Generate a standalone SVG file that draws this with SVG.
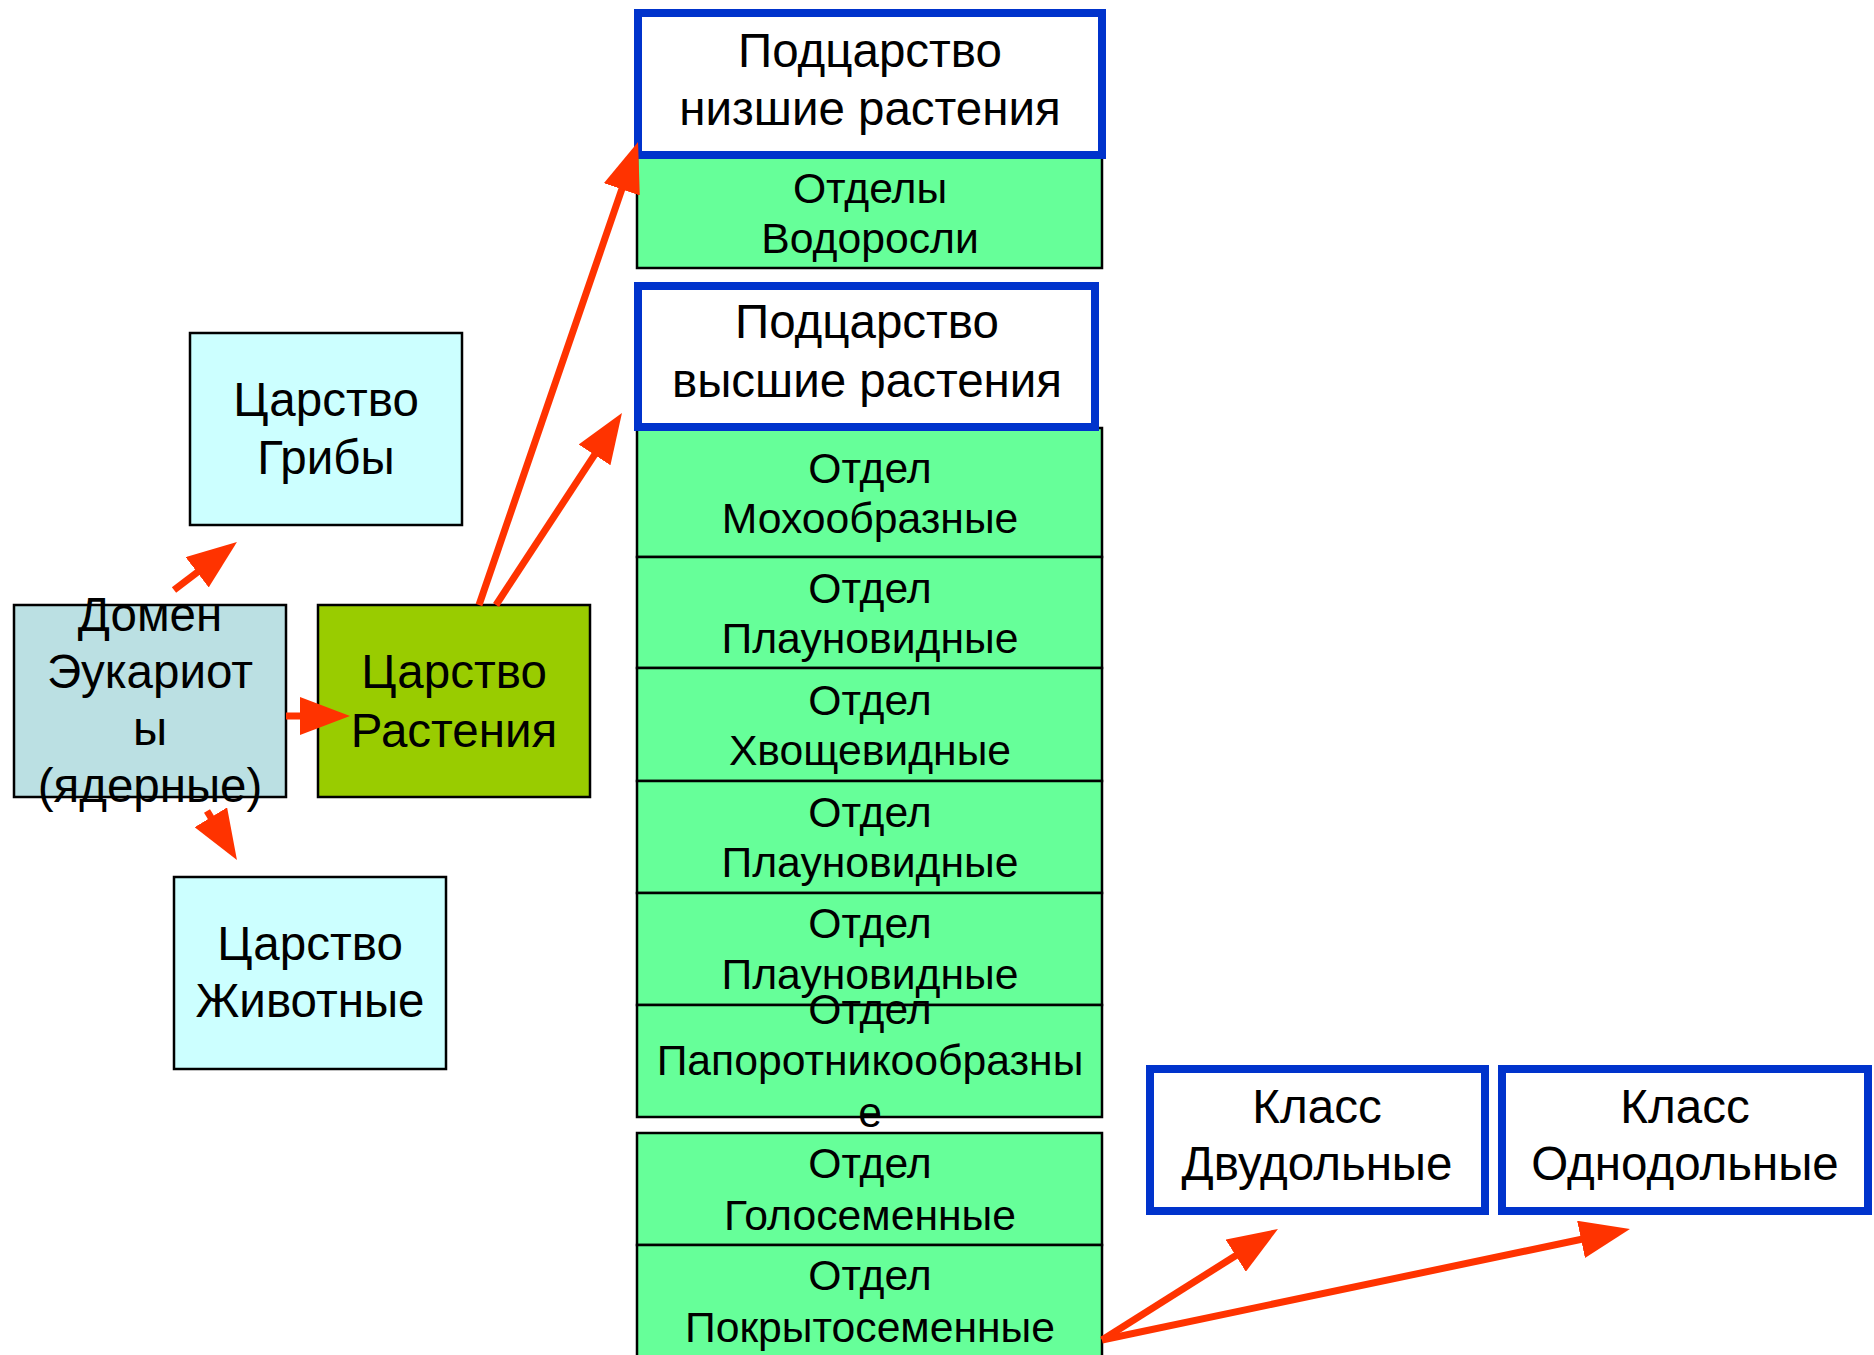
<svg xmlns="http://www.w3.org/2000/svg" width="1874" height="1355" viewBox="0 0 1874 1355">
<style>
text{font-family:"Liberation Sans",Arial,sans-serif;fill:#000;text-anchor:middle}
.big{font-size:47.5px}
.mid{font-size:42.7px}
.cyan{fill:#CCFFFF;stroke:#000;stroke-width:2.5}
.dom{fill:#BBE0E3;stroke:#000;stroke-width:2.5}
.plant{fill:#99CC00;stroke:#000;stroke-width:2.5}
.cell{fill:#66FF99;stroke:#000;stroke-width:2.5}
.blue{fill:#FFFFFF;stroke:#0033CC;stroke-width:8}
.arr{stroke:#FF3300;stroke-width:7;fill:none;marker-end:url(#ah)}
</style>
<defs>
<marker id="ah" viewBox="0 0 50 38" refX="20" refY="19" markerWidth="50" markerHeight="38" markerUnits="userSpaceOnUse" orient="auto">
<path d="M0,0 L50,19 L0,38 Z" fill="#FF3300"/>
</marker>
</defs>
<rect width="1874" height="1355" fill="#FFFFFF"/>

<g id="fungi">
<rect class="cyan" x="190" y="333" width="272" height="192"/>
<text class="big" x="326" y="416">Царство</text>
<text class="big" x="326" y="474">Грибы</text>
</g>
<g id="domain">
<rect class="dom" x="14" y="605" width="272" height="192"/>
<text class="big" x="150" y="631">Домен</text>
<text class="big" x="150" y="688">Эукариот</text>
<text class="big" x="150" y="745">ы</text>
<text class="big" x="150" y="802">(ядерные)</text>
</g>
<g id="plants">
<rect class="plant" x="318" y="605" width="272" height="192"/>
<text class="big" x="454" y="688">Царство</text>
<text class="big" x="454" y="747">Растения</text>
</g>
<g id="animals">
<rect class="cyan" x="174" y="877" width="272" height="192"/>
<text class="big" x="310" y="960">Царство</text>
<text class="big" x="310" y="1017">Животные</text>
</g>

<g id="algae">
<rect class="cell" x="637" y="150" width="465" height="118"/>
<text class="mid" x="870" y="203">Отделы</text>
<text class="mid" x="870" y="253">Водоросли</text>
</g>
<g id="lower-plants">
<rect class="blue" x="638" y="13" width="464" height="142"/>
<text class="big" x="870" y="67">Подцарство</text>
<text class="big" x="870" y="125">низшие растения</text>
</g>

<g id="mosses">
<rect class="cell" x="637" y="428" width="465" height="129"/>
<text class="mid" x="870" y="483">Отдел</text>
<text class="mid" x="870" y="533">Мохообразные</text>
</g>
<g id="lycopods1">
<rect class="cell" x="637" y="557" width="465" height="111"/>
<text class="mid" x="870" y="603">Отдел</text>
<text class="mid" x="870" y="653">Плауновидные</text>
</g>
<g id="horsetails">
<rect class="cell" x="637" y="668" width="465" height="113"/>
<text class="mid" x="870" y="715">Отдел</text>
<text class="mid" x="870" y="765">Хвощевидные</text>
</g>
<g id="lycopods2">
<rect class="cell" x="637" y="781" width="465" height="112"/>
<text class="mid" x="870" y="827">Отдел</text>
<text class="mid" x="870" y="877">Плауновидные</text>
</g>
<g id="lycopods3">
<rect class="cell" x="637" y="893" width="465" height="112"/>
<text class="mid" x="870" y="938">Отдел</text>
<text class="mid" x="870" y="989">Плауновидные</text>
</g>
<g id="ferns">
<rect class="cell" x="637" y="1005" width="465" height="112"/>
<text class="mid" x="870" y="1024">Отдел</text>
<text class="mid" x="870" y="1075">Папоротникообразны</text>
<text class="mid" x="870" y="1127">е</text>
</g>
<g id="gymnosperms">
<rect class="cell" x="637" y="1133" width="465" height="112"/>
<text class="mid" x="870" y="1178">Отдел</text>
<text class="mid" x="870" y="1230">Голосеменные</text>
</g>
<g id="angiosperms">
<rect class="cell" x="637" y="1245" width="465" height="120"/>
<text class="mid" x="870" y="1290">Отдел</text>
<text class="mid" x="870" y="1342">Покрытосеменные</text>
</g>
<g id="higher-plants">
<rect class="blue" x="638" y="286" width="457" height="141"/>
<text class="big" x="867" y="338">Подцарство</text>
<text class="big" x="867" y="397">высшие растения</text>
</g>

<g id="dicots">
<rect class="blue" x="1150" y="1069" width="335" height="142"/>
<text class="big" x="1317" y="1123">Класс</text>
<text class="big" x="1317" y="1180">Двудольные</text>
</g>
<g id="monocots">
<rect class="blue" x="1502" y="1069" width="366" height="142"/>
<text class="big" x="1685" y="1123">Класс</text>
<text class="big" x="1685" y="1180">Однодольные</text>
</g>

<g id="connectors">
<line class="arr" x1="174" y1="590" x2="213.1" y2="560.2"/>
<line class="arr" x1="286" y1="716" x2="320" y2="716"/>
<line class="arr" x1="207" y1="811" x2="221.3" y2="834.4"/>
<line class="arr" x1="479" y1="605" x2="628.3" y2="170.4"/>
<line class="arr" x1="496" y1="605" x2="605.5" y2="438.1"/>
<line class="arr" x1="1102" y1="1340" x2="1252.6" y2="1245"/>
<line class="arr" x1="1102" y1="1340" x2="1600.6" y2="1235.2"/>
</g>
</svg>
